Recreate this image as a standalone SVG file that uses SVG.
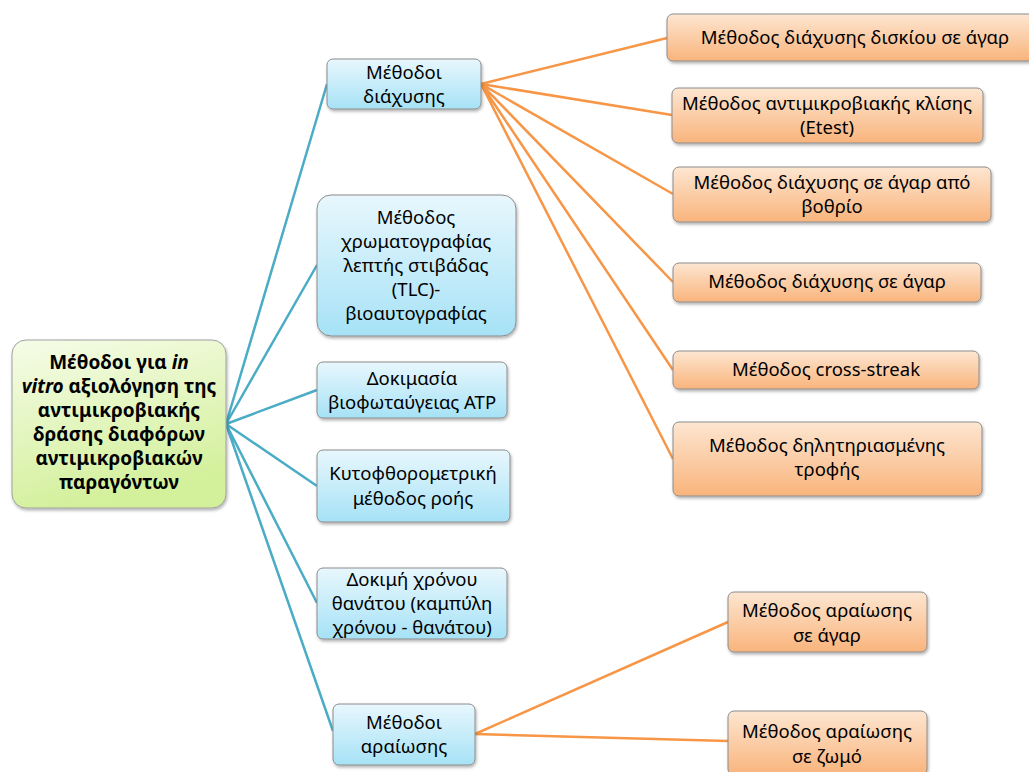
<svg xmlns="http://www.w3.org/2000/svg" width="1029" height="772" viewBox="0 0 1029 772">
<defs>
<linearGradient id="gb" x1="0" y1="0" x2="0" y2="1"><stop offset="0" stop-color="#e8f7fd"/><stop offset="1" stop-color="#a6e2f6"/></linearGradient>
<linearGradient id="go" x1="0" y1="0" x2="0" y2="1"><stop offset="0" stop-color="#fde6d1"/><stop offset="1" stop-color="#f9b47c"/></linearGradient>
<linearGradient id="gg" x1="0" y1="0" x2="0.3" y2="1"><stop offset="0" stop-color="#f6fce8"/><stop offset="1" stop-color="#d3f09b"/></linearGradient>
<filter id="sh" x="-10%" y="-10%" width="130%" height="140%"><feDropShadow dx="1" dy="2" stdDeviation="1.5" flood-color="#000" flood-opacity="0.3"/></filter>
</defs>
<style>
.b{fill:url(#gb);stroke:#8c8c8c;stroke-width:1;filter:url(#sh)}
.o{fill:url(#go);stroke:#8c8c8c;stroke-width:1;filter:url(#sh)}
.r{fill:url(#gg);stroke:#a0a0a0;stroke-width:1;filter:url(#sh)}
text{font-family:"Noto Sans","DejaVu Sans",sans-serif;font-size:18.5px;fill:#000;text-anchor:middle}
.bold{font-weight:bold;font-size:19px}
.lb{stroke:#4bacc6;stroke-width:2.5;fill:none}
.lo{stroke:#f79646;stroke-width:2.5;fill:none}
</style>
<rect width="1029" height="772" fill="#fff"/>
<g id="connectors">
<path class="lb" d="M226 424L327 84M226 424L317 265M226 424L317 390M226 424L317 486M226 424L317 603M226 424L333 731"/>
<path class="lo" d="M481 84L667 38M481 84L672 115M481 84L673 194M481 84L673 282M481 84L673 370M481 84L673 459M475 734L728 622M475 734L728 741"/>
</g>
<g id="root"><rect class="r" x="12" y="340" width="214" height="168" rx="14"/>
<text class="bold" x="119" y="369">Μέθοδοι για <tspan font-style="italic">in</tspan></text>
<text class="bold" x="119" y="393"><tspan font-style="italic">vitro</tspan> αξιολόγηση της</text>
<text class="bold" x="119" y="417">αντιμικροβιακής</text>
<text class="bold" x="119" y="441">δράσης διαφόρων</text>
<text class="bold" x="119" y="465">αντιμικροβιακών</text>
<text class="bold" x="119" y="489">παραγόντων</text></g>
<g id="n-diachysis"><rect class="b" x="327" y="59" width="154" height="50" rx="6"/><text x="404" y="79">Μέθοδοι</text><text x="404" y="103">διάχυσης</text></g>
<g id="n-tlc"><rect class="b" x="317" y="195" width="199" height="141" rx="14"/><text x="416" y="224">Μέθοδος</text><text x="416" y="248">χρωματογραφίας</text><text x="416" y="272">λεπτής στιβάδας</text><text x="416" y="296">(TLC)-</text><text x="416" y="320">βιοαυτογραφίας</text></g>
<g id="n-atp"><rect class="b" x="317" y="362" width="190" height="56" rx="6"/><text x="412" y="385">Δοκιμασία</text><text x="412" y="409">βιοφωταύγειας ATP</text></g>
<g id="n-flow"><rect class="b" x="317" y="450" width="193" height="72" rx="6"/><text x="413" y="480">Κυτοφθορομετρική</text><text x="413" y="505">μέθοδος ροής</text></g>
<g id="n-timekill"><rect class="b" x="317" y="568" width="190" height="71" rx="6"/><text x="412" y="586">Δοκιμή χρόνου</text><text x="412" y="610">θανάτου (καμπύλη</text><text x="412" y="634">χρόνου - θανάτου)</text></g>
<g id="n-dilution"><rect class="b" x="333" y="704" width="142" height="61" rx="6"/><text x="404" y="729">Μέθοδοι</text><text x="404" y="753">αραίωσης</text></g>
<g id="o-disk"><rect class="o" x="667" y="14" width="372" height="47" rx="6"/><text x="855" y="44">Μέθοδος διάχυσης δισκίου σε άγαρ</text></g>
<g id="o-etest"><rect class="o" x="672" y="88" width="311" height="55" rx="6"/><text x="827" y="110">Μέθοδος αντιμικροβιακής κλίσης</text><text x="827" y="134">(Etest)</text></g>
<g id="o-well"><rect class="o" x="673" y="167" width="318" height="55" rx="6"/><text x="832" y="189">Μέθοδος διάχυσης σε άγαρ από</text><text x="832" y="213">βοθρίο</text></g>
<g id="o-agar"><rect class="o" x="673" y="263" width="308" height="39" rx="6"/><text x="827" y="288">Μέθοδος διάχυσης σε άγαρ</text></g>
<g id="o-cross"><rect class="o" x="673" y="351" width="306" height="38" rx="6"/><text x="826" y="376">Μέθοδος cross-streak</text></g>
<g id="o-poison"><rect class="o" x="673" y="422" width="309" height="74" rx="6"/><text x="827" y="452">Μέθοδος δηλητηριασμένης</text><text x="827" y="476">τροφής</text></g>
<g id="o-agardil"><rect class="o" x="728" y="592" width="199" height="60" rx="6"/><text x="827" y="617">Μέθοδος αραίωσης</text><text x="827" y="642">σε άγαρ</text></g>
<g id="o-broth"><rect class="o" x="728" y="711" width="199" height="64" rx="6"/><text x="827" y="738">Μέθοδος αραίωσης</text><text x="827" y="763">σε ζωμό</text></g>
</svg>
